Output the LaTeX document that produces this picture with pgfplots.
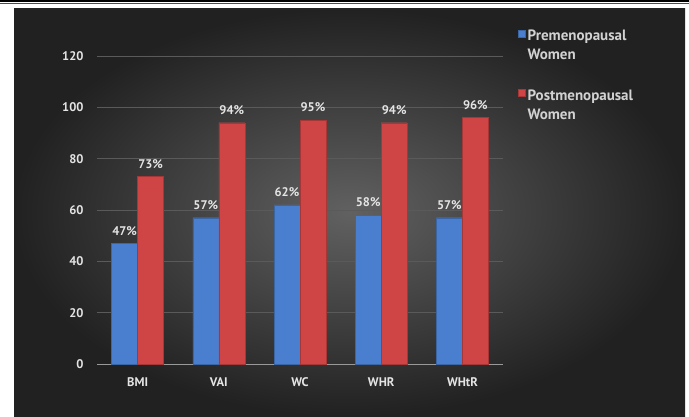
\documentclass[border=0pt]{standalone}
\usepackage{fontspec}
\setmainfont{PT Sans}
\usepackage{pgfplots}
\pgfplotsset{compat=1.18}
\definecolor{bluebar}{HTML}{4A7FD0}
\definecolor{redbar}{HTML}{CF4545}
\definecolor{txt}{HTML}{E4E4E4}
\definecolor{gridc}{HTML}{5A5A5A}
\begin{document}
\begin{tikzpicture}
\useasboundingbox (0,0) rectangle (689pt,416pt);
\fill[white] (0,0) rectangle (689pt,416pt);
\draw[black, line width=2pt] (0,414.8pt) -- (689pt,414.8pt);
\draw[black!70, line width=0.7pt] (0,412.3pt) -- (689pt,412.3pt);
\shade[inner color=black!62, outer color=black!87] (14pt,0) rectangle (685pt,407pt);
\begin{axis}[
  at={(97pt,52pt)}, anchor=south west,
  scale only axis, width=406pt, height=308pt,
  ymin=0, ymax=120, xmin=-0.5, xmax=4.5,
  ytick={0,20,...,120},
  xtick={0,1,2,3,4},
  xticklabels={BMI,VAI,WC,WHR,WHtR},
  /pgf/number format/assume math mode=true,
  axis y line*=left, y axis line style={draw=none},
  axis x line*=bottom, x axis line style={draw=black!40, line width=0.8pt},
  ymajorgrids, grid style={draw=gridc, line width=0.6pt},
  major tick style={draw=none},
  tick label style={font=\bfseries\fontsize{12.5}{14}\selectfont, text=txt},
  yticklabel shift=10pt,
  xticklabel shift=6pt,
  ybar=0pt, bar width=26pt,
  nodes near coords={\pgfmathprintnumber{\pgfplotspointmeta}\%},
  every node near coord/.append style={font=\bfseries\fontsize{12.5}{14}\selectfont, text=txt, inner sep=0pt, yshift=8pt},
  legend cell align=left,
  legend style={at={(1.03,1.097)}, anchor=north west, draw=none, fill=none,
    font=\bfseries\fontsize{15}{19}\selectfont, text=txt!92!black, row sep=24pt,
    cells={align=left}},
  legend image code/.code={\fill[#1] (0pt,9pt) rectangle (7pt,16pt);},
  clip=false,
]
\addplot[fill=bluebar, draw=bluebar!80!black, line width=0.3pt] coordinates {(0,47) (1,57) (2,62) (3,58) (4,57)};
\addplot[fill=redbar, draw=redbar!80!black, line width=0.3pt] coordinates {(0,73) (1,94) (2,95) (3,94) (4,96)};
\legend{Premenopausal\\Women, Postmenopausal\\Women}
\end{axis}
\end{tikzpicture}
\end{document}
